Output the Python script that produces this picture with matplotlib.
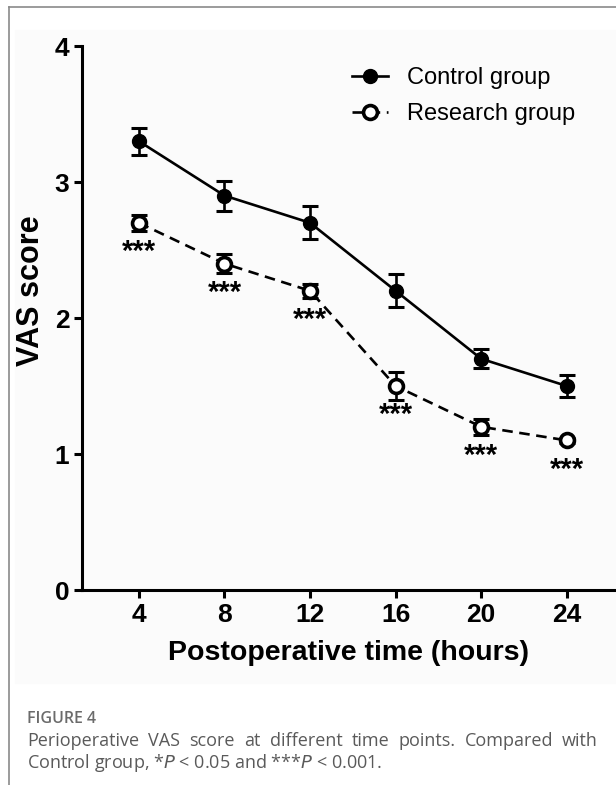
import matplotlib.pyplot as plt
from matplotlib.lines import Line2D
from matplotlib.patches import Rectangle

hours = [4, 8, 12, 16, 20, 24]
control_mean = [3.3, 2.9, 2.7, 2.2, 1.7, 1.5]
control_err = [0.10, 0.11, 0.12, 0.12, 0.07, 0.08]
research_mean = [2.7, 2.4, 2.2, 1.5, 1.2, 1.1]
research_err = [0.06, 0.07, 0.05, 0.10, 0.06, 0.02]
sig_marks = ["***"] * 6

caption_title = "FIGURE 4"
caption_line1 = "Perioperative VAS score at different time points. Compared with"

BOLD = dict(family="Liberation Sans", weight="bold")

fig = plt.figure(figsize=(6.16, 7.85), dpi=100)

# frame around the figure panel
fig.add_artist(Line2D([0.014, 1.0], [0.991, 0.991], color="#8a8a8a", lw=1.2))
fig.add_artist(Line2D([0.014, 0.014], [0.0, 0.991], color="#8a8a8a", lw=1.2))
fig.add_artist(Rectangle((0.024, 0.130), 0.976, 0.832, color="#fbfbfb", zorder=-1))

ax = fig.add_axes([0.133, 0.2484, 0.867, 0.693])
ax.set_facecolor("none")

lw = 1.9
ax.errorbar(hours, control_mean, yerr=control_err, fmt="none", ecolor="black",
            elinewidth=lw, capsize=6, capthick=2.2, zorder=3)
ax.errorbar(hours, research_mean, yerr=research_err, fmt="none", ecolor="black",
            elinewidth=lw, capsize=6, capthick=2.2, zorder=3)
ax.plot(hours, control_mean, "-o", color="black", lw=lw, ms=10,
        label="Control group", zorder=4)
ax.plot(hours, research_mean, color="black", lw=lw, ls=(0, (4, 2.5)),
        marker="o", ms=10, mfc="white", mec="black", mew=2.6,
        label="Research group", zorder=4)

for x, y, s in zip(hours, research_mean, sig_marks):
    ax.annotate(s, (x, y), xytext=(0, -11), textcoords="offset points",
                ha="center", va="top", fontsize=21, **BOLD)

ax.set_xlim(1.34, 26.3)
ax.set_ylim(0, 4)
ax.set_xticks(hours)
ax.set_yticks([0, 1, 2, 3, 4])
for side in ["top", "right"]:
    ax.spines[side].set_visible(False)
for side in ["left", "bottom"]:
    ax.spines[side].set_linewidth(2.2)
ax.tick_params(axis="both", width=2.2, length=6, direction="out", pad=3)
for lab in ax.get_xticklabels() + ax.get_yticklabels():
    lab.set_fontproperties("Liberation Sans")
    lab.set_fontweight("bold")
    lab.set_fontsize(19)

ax.set_xlabel("Postoperative time (hours)", fontsize=20.5, labelpad=10, **BOLD)
ax.set_ylabel("VAS score", fontsize=22, **BOLD)
ax.yaxis.set_label_coords(-0.068, 0.55)

leg = ax.legend(loc="upper left", bbox_to_anchor=(0.465, 1.0), frameon=False,
                prop={"family": "Liberation Sans", "size": 17},
                handlelength=1.55, handletextpad=0.8, labelspacing=0.6)

# caption
fig.text(0.044, 0.0845, caption_title, fontsize=11.5, color="#6b6b6b",
         family="Open Sans", weight="semibold", va="center")

# justified first line
fig.canvas.draw()
renderer = fig.canvas.get_renderer()
words = caption_line1.split(" ")
x0, x1, yl = 0.044, 0.971, 0.0565
txts = [fig.text(0, yl, w, fontsize=13, color="#5a5a5a", family="Open Sans",
                 va="center") for w in words]
widths = [t.get_window_extent(renderer).width / fig.bbox.width for t in txts]
gap = ((x1 - x0) - sum(widths)) / (len(words) - 1)
pos = x0
for t, w in zip(txts, widths):
    t.set_x(pos)
    pos += w + gap

fig.text(0.044, 0.028,
         r"Control group, *$\it{P}$ < 0.05 and ***$\it{P}$ < 0.001.",
         fontsize=13, color="#5a5a5a", family="Open Sans", va="center")

fig.savefig("out.png", dpi=100)
